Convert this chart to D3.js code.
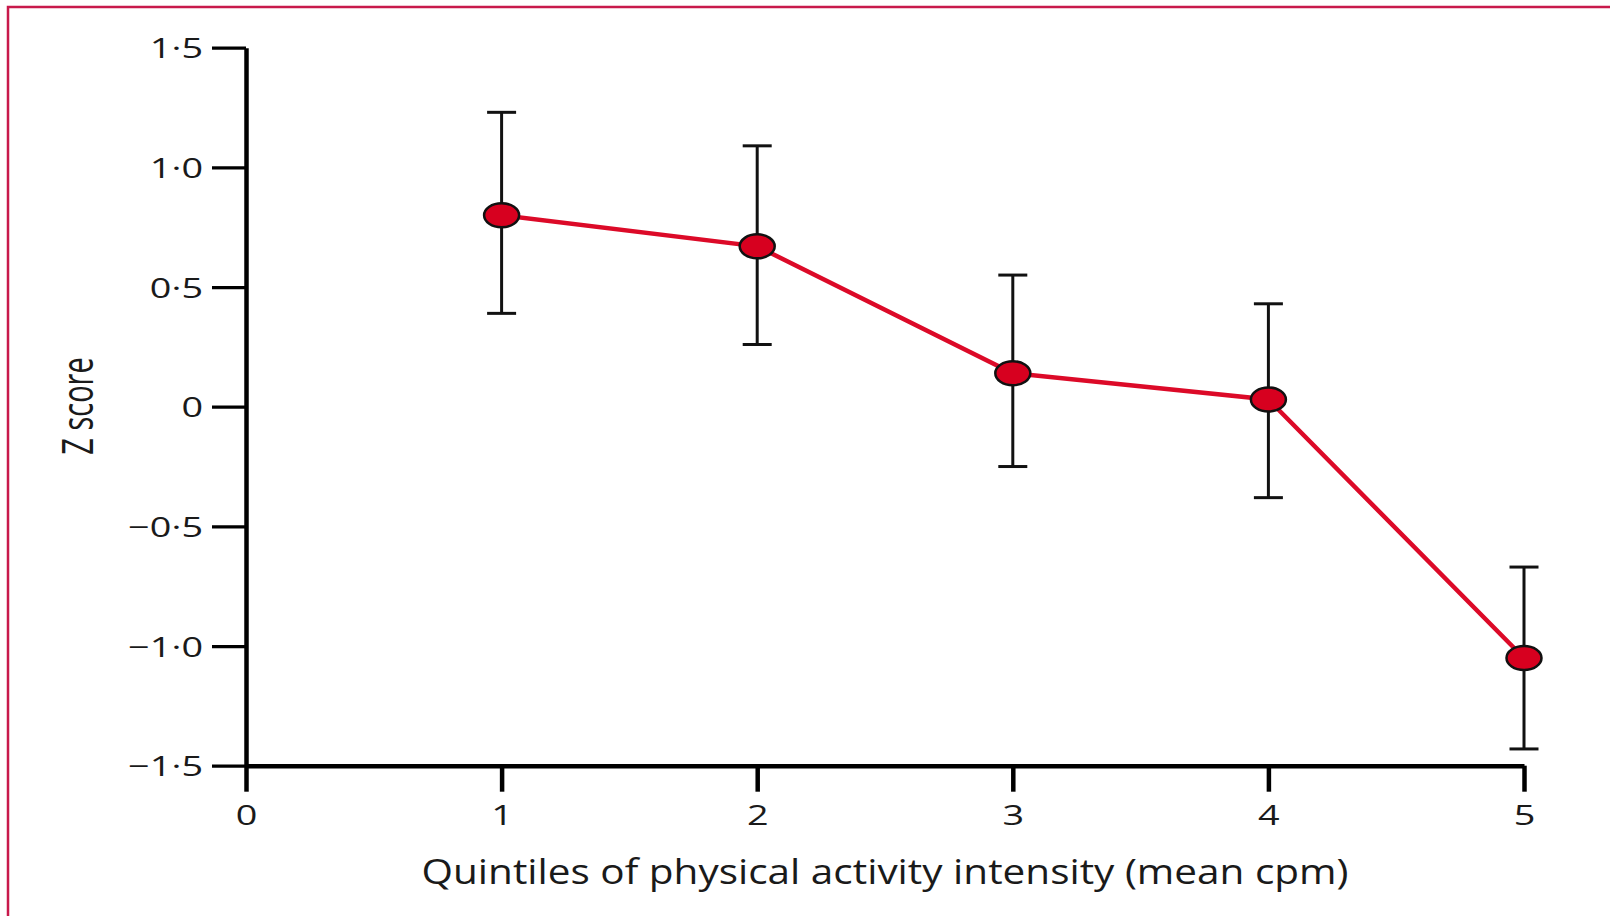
<!DOCTYPE html>
<html>
<head>
  <meta charset="utf-8">
  <title>Z score by quintile</title>
  <style>
    body { margin: 0; background: #fff; }
    text { font-family: "Open Sans", sans-serif; fill: #1a1a1a; }
    .axis path, .axis line { stroke: #000; }
  </style>
</head>
<body>
<svg width="1610" height="916"></svg>
<script src="https://d3js.org/d3.v7.min.js"></script>
<script>

// data
var quintiles = [1, 2, 3, 4, 5];
var zMean  = [0.80, 0.67, 0.14, 0.03, -1.05];
var ciUp   = [1.23, 1.09, 0.55, 0.43, -0.67];
var ciLow  = [0.39, 0.26, -0.25, -0.38, -1.43];

var yTicks = [-1.5, -1.0, -0.5, 0, 0.5, 1.0, 1.5];
var yTickLabels = ["\u22121\u00b75", "\u22121\u00b70", "\u22120\u00b75", "0", "0\u00b75", "1\u00b70", "1\u00b75"];
var xTicks = [0, 1, 2, 3, 4, 5];

var svg = d3.select("svg");

// pink frame round the figure
svg.append("rect")
    .attr("x", 8).attr("y", 7)
    .attr("width", 1700).attr("height", 1000)
    .attr("fill", "none")
    .attr("stroke", "#c8194b")
    .attr("stroke-width", 2.5);

var x = d3.scaleLinear().domain([0, 5]).range([246, 1524]);
var y = d3.scaleLinear().domain([-1.5, 1.5]).range([765.7, 47.7]);

// y axis
var yAxis = svg.append("g")
    .attr("class", "axis")
    .attr("transform", "translate(" + x(0) + ",0)")
    .call(d3.axisLeft(y)
      .tickValues(yTicks)
      .tickSize(34)
      .tickSizeOuter(0)
      .tickFormat(function(d, i) { return yTickLabels[i]; }));
yAxis.select(".domain").attr("stroke-width", 4.5);
yAxis.selectAll(".tick line").attr("stroke-width", 3.3);
yAxis.selectAll(".tick text")
    .attr("x", null).attr("dy", null)
    .attr("transform", "translate(-43,10) scale(1.35,1)")
    .attr("font-size", 28)
    .attr("fill", "#1a1a1a");

// x axis
var xAxis = svg.append("g")
    .attr("class", "axis")
    .attr("transform", "translate(0," + y(-1.5) + ")")
    .call(d3.axisBottom(x)
      .tickValues(xTicks)
      .tickSize(26)
      .tickSizeOuter(0)
      .tickFormat(d3.format("d")));
xAxis.select(".domain").attr("stroke-width", 4.5);
xAxis.selectAll(".tick line").attr("stroke-width", 4.5);
xAxis.selectAll(".tick text")
    .attr("y", null).attr("dy", null)
    .attr("transform", "translate(0,59) scale(1.35,1)")
    .attr("font-size", 28)
    .attr("fill", "#1a1a1a");

// axis titles
svg.append("text")
    .attr("text-anchor", "middle")
    .attr("x", (x(0) + x(5)) / 2)
    .attr("y", 884)
    .attr("font-size", 34)
    .attr("textLength", 927)
    .attr("lengthAdjust", "spacingAndGlyphs")
    .text("Quintiles of physical activity intensity (mean cpm)");

svg.append("text")
    .attr("text-anchor", "middle")
    .attr("transform", "translate(93,406) scale(1.5,1) rotate(-90)")
    .attr("font-size", 29)
    .text("Z score");

// error bars
var bars = svg.append("g").selectAll("g")
    .data(quintiles)
    .enter().append("g")
    .attr("stroke", "#111")
    .attr("stroke-width", 3);

bars.append("line")
    .attr("x1", function(d) { return x(d); })
    .attr("x2", function(d) { return x(d); })
    .attr("y1", function(d, i) { return y(ciUp[i]); })
    .attr("y2", function(d, i) { return y(ciLow[i]); });
bars.append("line")
    .attr("x1", function(d) { return x(d) - 14.5; })
    .attr("x2", function(d) { return x(d) + 14.5; })
    .attr("y1", function(d, i) { return y(ciUp[i]); })
    .attr("y2", function(d, i) { return y(ciUp[i]); });
bars.append("line")
    .attr("x1", function(d) { return x(d) - 14.5; })
    .attr("x2", function(d) { return x(d) + 14.5; })
    .attr("y1", function(d, i) { return y(ciLow[i]); })
    .attr("y2", function(d, i) { return y(ciLow[i]); });

// red line
var line = d3.line()
    .x(function(d) { return x(d); })
    .y(function(d, i) { return y(zMean[i]); });

svg.append("path")
    .datum(quintiles)
    .attr("d", line)
    .attr("fill", "none")
    .attr("stroke", "#dc0a28")
    .attr("stroke-width", 4.5);

// markers (drawn as ellipses, the figure is stretched sideways)
svg.append("g").selectAll("ellipse")
    .data(quintiles)
    .enter().append("ellipse")
    .attr("cx", function(d) { return x(d); })
    .attr("cy", function(d, i) { return y(zMean[i]); })
    .attr("rx", 17.5)
    .attr("ry", 12)
    .attr("fill", "#d7001f")
    .attr("stroke", "#111")
    .attr("stroke-width", 2.5);

</script>
</body>
</html>
